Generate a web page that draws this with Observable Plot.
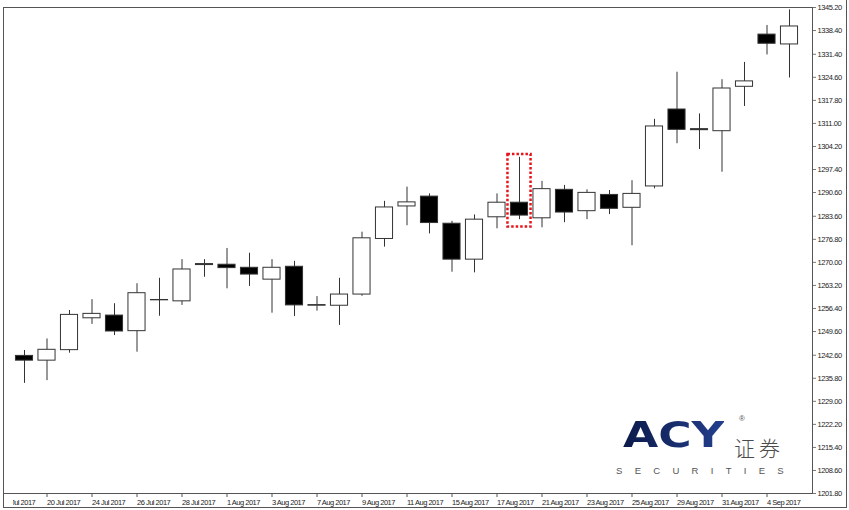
<!DOCTYPE html>
<html><head><meta charset="utf-8">
<script src="https://cdn.jsdelivr.net/npm/d3@7"></script>
<script src="https://cdn.jsdelivr.net/npm/@observablehq/plot@0.6"></script>
<style>
body{margin:0;background:#fff;}
#wrap{position:relative;width:849px;height:510px;overflow:hidden;font-family:"Liberation Sans",Arial,sans-serif;background:#fff;}
#wrap svg{position:absolute;left:0;top:0;}
.bl{position:absolute;background:#555;}
.logo{position:absolute;white-space:nowrap;line-height:1;}
</style></head><body><div id="wrap"></div>
<script>
// Daily candles, 19 Jul 2017 – 5 Sep 2017
const dates = ["2017-07-19","2017-07-20","2017-07-21","2017-07-24","2017-07-25","2017-07-26","2017-07-27","2017-07-28","2017-07-31",
  "2017-08-01","2017-08-02","2017-08-03","2017-08-04","2017-08-07","2017-08-08","2017-08-09","2017-08-10","2017-08-11",
  "2017-08-14","2017-08-15","2017-08-16","2017-08-17","2017-08-18","2017-08-21","2017-08-22","2017-08-23","2017-08-24",
  "2017-08-25","2017-08-28","2017-08-29","2017-08-30","2017-08-31","2017-09-01","2017-09-04","2017-09-05"];
const open  = [1242.4,1241.0,1244.1,1253.5,1254.3,1249.7,1258.8,1258.5,1269.2,1269.3,1268.4,1264.9,1268.7,1257.2,1257.2,1260.5,1276.9,1286.5,
  1289.4,1281.4,1270.8,1283.3,1287.6,1283.0,1291.4,1285.1,1289.9,1286.1,1292.4,1315.1,1309.3,1308.7,1321.8,1337.2,1334.3];
const high  = [1244.0,1247.4,1255.8,1259.0,1257.8,1263.7,1265.3,1270.8,1270.8,1274.1,1272.7,1270.8,1270.3,1259.9,1265.3,1278.9,1288.0,1292.2,
  1290.2,1282.1,1284.0,1290.2,1301.0,1293.9,1292.7,1291.4,1291.2,1294.1,1312.2,1326.1,1313.8,1323.9,1329.0,1339.9,1344.5];
const low   = [1234.3,1235.1,1243.2,1251.7,1248.4,1243.5,1254.1,1257.3,1265.6,1262.2,1262.9,1255.0,1254.0,1255.6,1251.4,1260.0,1274.5,1280.8,
  1278.4,1267.1,1266.9,1279.9,1282.6,1280.2,1281.7,1282.6,1284.1,1274.9,1291.7,1305.0,1303.3,1296.6,1316.0,1331.2,1324.4];
const close = [1241.0,1244.2,1254.5,1254.8,1249.6,1260.9,1258.9,1267.9,1269.5,1268.3,1266.4,1268.4,1257.3,1257.4,1260.5,1277.1,1286.2,1287.7,
  1281.6,1270.8,1282.6,1287.6,1283.8,1291.6,1284.7,1290.5,1285.8,1290.2,1310.1,1309.1,1309.0,1321.3,1323.4,1334.5,1339.6];
const leadingDate = "2017-07-18"; // bar slot just left of the visible window
const xTickDates = ["2017-07-18","2017-07-20","2017-07-24","2017-07-26","2017-07-28","2017-08-01","2017-08-03","2017-08-07","2017-08-09",
  "2017-08-11","2017-08-15","2017-08-17","2017-08-21","2017-08-23","2017-08-25","2017-08-29","2017-08-31","2017-09-04"];
const yTicks = [1201.80,1208.60,1215.40,1222.20,1229.00,1235.80,1242.60,1249.60,1256.40,1263.20,1270.00,1276.80,1283.60,1290.60,
  1297.40,1304.20,1311.00,1317.80,1324.60,1331.40,1338.40,1345.20];
const highlightDates = ["2017-08-18"];
const highlightLow = [1280.4];
const highlightHigh = [1301.8];

const candles = dates.map((d,i)=>({date:d, open:open[i], high:high[i], low:low[i], close:close[i]}));
const highlight = highlightDates.map((d,i)=>({date:d, low:highlightLow[i], high:highlightHigh[i]}));
const fmtDate = d3.utcFormat("%-d %b %Y");

const chart = Plot.plot({
  width: 849, height: 510,
  marginLeft: 3, marginRight: 37, marginTop: 7, marginBottom: 17,
  style: {fontFamily: '"Liberation Sans", Arial, sans-serif', background: "transparent", color: "#222"},
  x: {type: "band", domain: [leadingDate, ...dates], range: [-9.75, 800.25], paddingInner: 0.24, paddingOuter: 0.12, round: false, axis: null},
  y: {domain: [1201.8, 1345.2], axis: null},
  marks: [
    Plot.ruleX(candles, {x: "date", y1: "low", y2: "high", stroke: "#333", strokeWidth: 1}),
    Plot.barY(candles, {x: "date", y1: "open", y2: "close", fill: d => d.close >= d.open ? "#fff" : "#000", stroke: "#333", strokeWidth: 1}),
    Plot.rect(highlight, {x: "date", y1: "low", y2: "high", fill: "none", stroke: "#e8141b", strokeWidth: 2.5, strokeDasharray: "2.5,2", insetLeft: -3, insetRight: -3}),
    Plot.frame({stroke: "#555", strokeWidth: 1}),
    Plot.axisY({anchor: "right", ticks: yTicks, tickFormat: d3.format(".2f"), tickSize: 3, tickPadding: 2, fontSize: 7.5, stroke: "#777", label: null}),
    Plot.axisX({ticks: xTickDates, tickFormat: d => fmtDate(new Date(d)), tickSize: 4, tickPadding: 2.5, textAnchor: "start", dx: 0, fontSize: 7.5, stroke: "#555", label: null})
  ]
});
const wrap = document.getElementById("wrap");
wrap.appendChild(chart);

const svg = d3.select(chart);
// narrow terminal-like tick text
svg.selectAll('g[aria-label="x-axis tick label"] text').style("letter-spacing", "-0.5px");
svg.selectAll('g[aria-label="y-axis tick label"] text').style("letter-spacing", "-0.4px");
// clip the partial first date slot at the left edge of the time axis (x = 13 in page pixels)
const defs = svg.append("defs");
["x-axis tick label", "x-axis tick"].forEach((name, k) => {
  const g = chart.querySelector(`g[aria-label="${name}"]`);
  if (!g) return;
  const m = g.transform.baseVal.consolidate();
  const ox = m ? m.matrix.e : 0;
  const id = "xclip" + k;
  defs.append("clipPath").attr("id", id).append("rect")
    .attr("x", 13 - ox).attr("y", -100).attr("width", 1000).attr("height", 1000);
  g.setAttribute("clip-path", `url(#${id})`);
});

// window border
function line(l,t,w,h){const e=document.createElement("div");e.className="bl";Object.assign(e.style,{left:l+"px",top:t+"px",width:w+"px",height:h+"px"});wrap.appendChild(e);}
line(3,7,1,500); line(3,507,844,1); line(846,0,1,508);

// ACY Securities logo
function txt(s, css){const e=document.createElement("div");e.className="logo";e.textContent=s;Object.assign(e.style,css);wrap.appendChild(e);return e;}
txt("ACY",{left:"623px",top:"418px",fontSize:"35px",fontWeight:"bold",fontFamily:'"DejaVu Sans",sans-serif',letterSpacing:"0px",transform:"scaleX(1.3)",transformOrigin:"left top",
  background:"linear-gradient(90deg,#0c1a4a,#233f8e)",webkitBackgroundClip:"text",backgroundClip:"text",color:"transparent"});
txt("®",{left:"739px",top:"415px",fontSize:"8px",color:"#555"});
txt("证券",{left:"734px",top:"437px",fontSize:"21px",letterSpacing:"4px",color:"#4a4a4a",fontFamily:'"Noto Sans CJK SC",sans-serif',fontWeight:"300"});
txt("SECURITIES",{left:"616px",top:"466px",fontSize:"9.5px",letterSpacing:"12.3px",color:"#555"});
</script>
</body></html>
